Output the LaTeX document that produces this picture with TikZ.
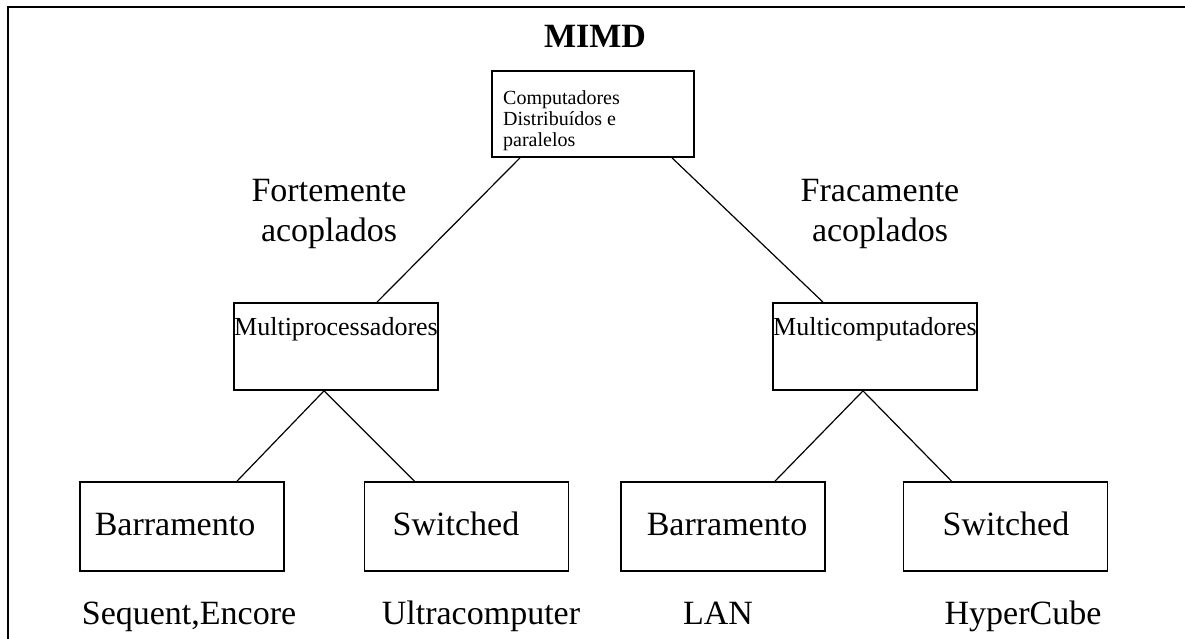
\documentclass[tikz,border=0pt]{standalone}
\usepackage{fontspec}
\setmainfont{Liberation Serif}
\begin{document}
\begin{tikzpicture}[x=1pt,y=-1pt,
  box/.style={draw=black, line width=1.7pt, minimum width=204pt, inner sep=0pt},
  conn/.style={draw=black, line width=1.2pt},
  big/.style={font=\fontsize{34}{40}\selectfont, inner sep=0pt},
  mid/.style={font=\fontsize{26}{30}\selectfont, inner sep=0pt},
  small/.style={font=\fontsize{20}{21}\selectfont, inner sep=0pt}]
\useasboundingbox (0,0) rectangle (1185,639);

% open frame: top and left edges only
\draw[line width=2pt] (8.3,639) -- (8.3,7) -- (1185,7);

% title
\node[big, anchor=base] (title) at (595,48) {\bfseries MIMD};

% root box
\node[box, minimum width=202pt, minimum height=86pt] (top) at (593,114) {};
\node[small, anchor=north west, align=left] (toptext) at (503,90)
  {Computadores\\Distribuídos e\\paralelos};

% coupling labels
\node[big, anchor=north, align=center] (forte) at (329,179) {Fortemente\\acoplados};
\node[big, anchor=north, align=center] (fraca) at (880,179) {Fracamente\\acoplados};

% second level
\node[box, minimum height=87pt] (mp) at (336,346.5) {};
\node[box, minimum height=87pt] (mc) at (875,346.5) {};
\node[mid, anchor=base] (mptext) at (336,335) {Multiprocessadores};
\node[mid, anchor=base] (mctext) at (875,335) {Multicomputadores};

% leaves
\node[box, minimum height=89pt] (b1) at (182,526.5) {};
\node[box, minimum height=89pt] (b2) at (466.5,526.5) {};
\node[box, minimum height=89pt] (b3) at (723,526.5) {};
\node[box, minimum height=89pt] (b4) at (1005.5,526.5) {};
\node[big, anchor=base] (b1text) at (175,535) {Barramento};
\node[big, anchor=base] (b2text) at (456,535) {Switched};
\node[big, anchor=base] (b3text) at (727,535) {Barramento};
\node[big, anchor=base] (b4text) at (1006,535) {Switched};

% examples under the leaves
\node[big, anchor=base] (ex1) at (189,624) {Sequent,Encore};
\node[big, anchor=base] (ex2) at (481,624) {Ultracomputer};
\node[big, anchor=base] (ex3) at (718,624) {LAN};
\node[big, anchor=base] (ex4) at (1023,624) {HyperCube};

% connectors
\draw[conn] ([xshift=-73pt]top.south) -- ([xshift=41pt]mp.north);
\draw[conn] ([xshift=79pt]top.south) -- ([xshift=-52pt]mc.north);
\draw[conn] ([xshift=-12pt]mp.south) -- ([xshift=55pt]b1.north);
\draw[conn] ([xshift=-12pt]mp.south) -- ([xshift=-52pt]b2.north);
\draw[conn] ([xshift=-12pt]mc.south) -- ([xshift=52pt]b3.north);
\draw[conn] ([xshift=-12pt]mc.south) -- ([xshift=-54pt]b4.north);
\end{tikzpicture}
\end{document}
